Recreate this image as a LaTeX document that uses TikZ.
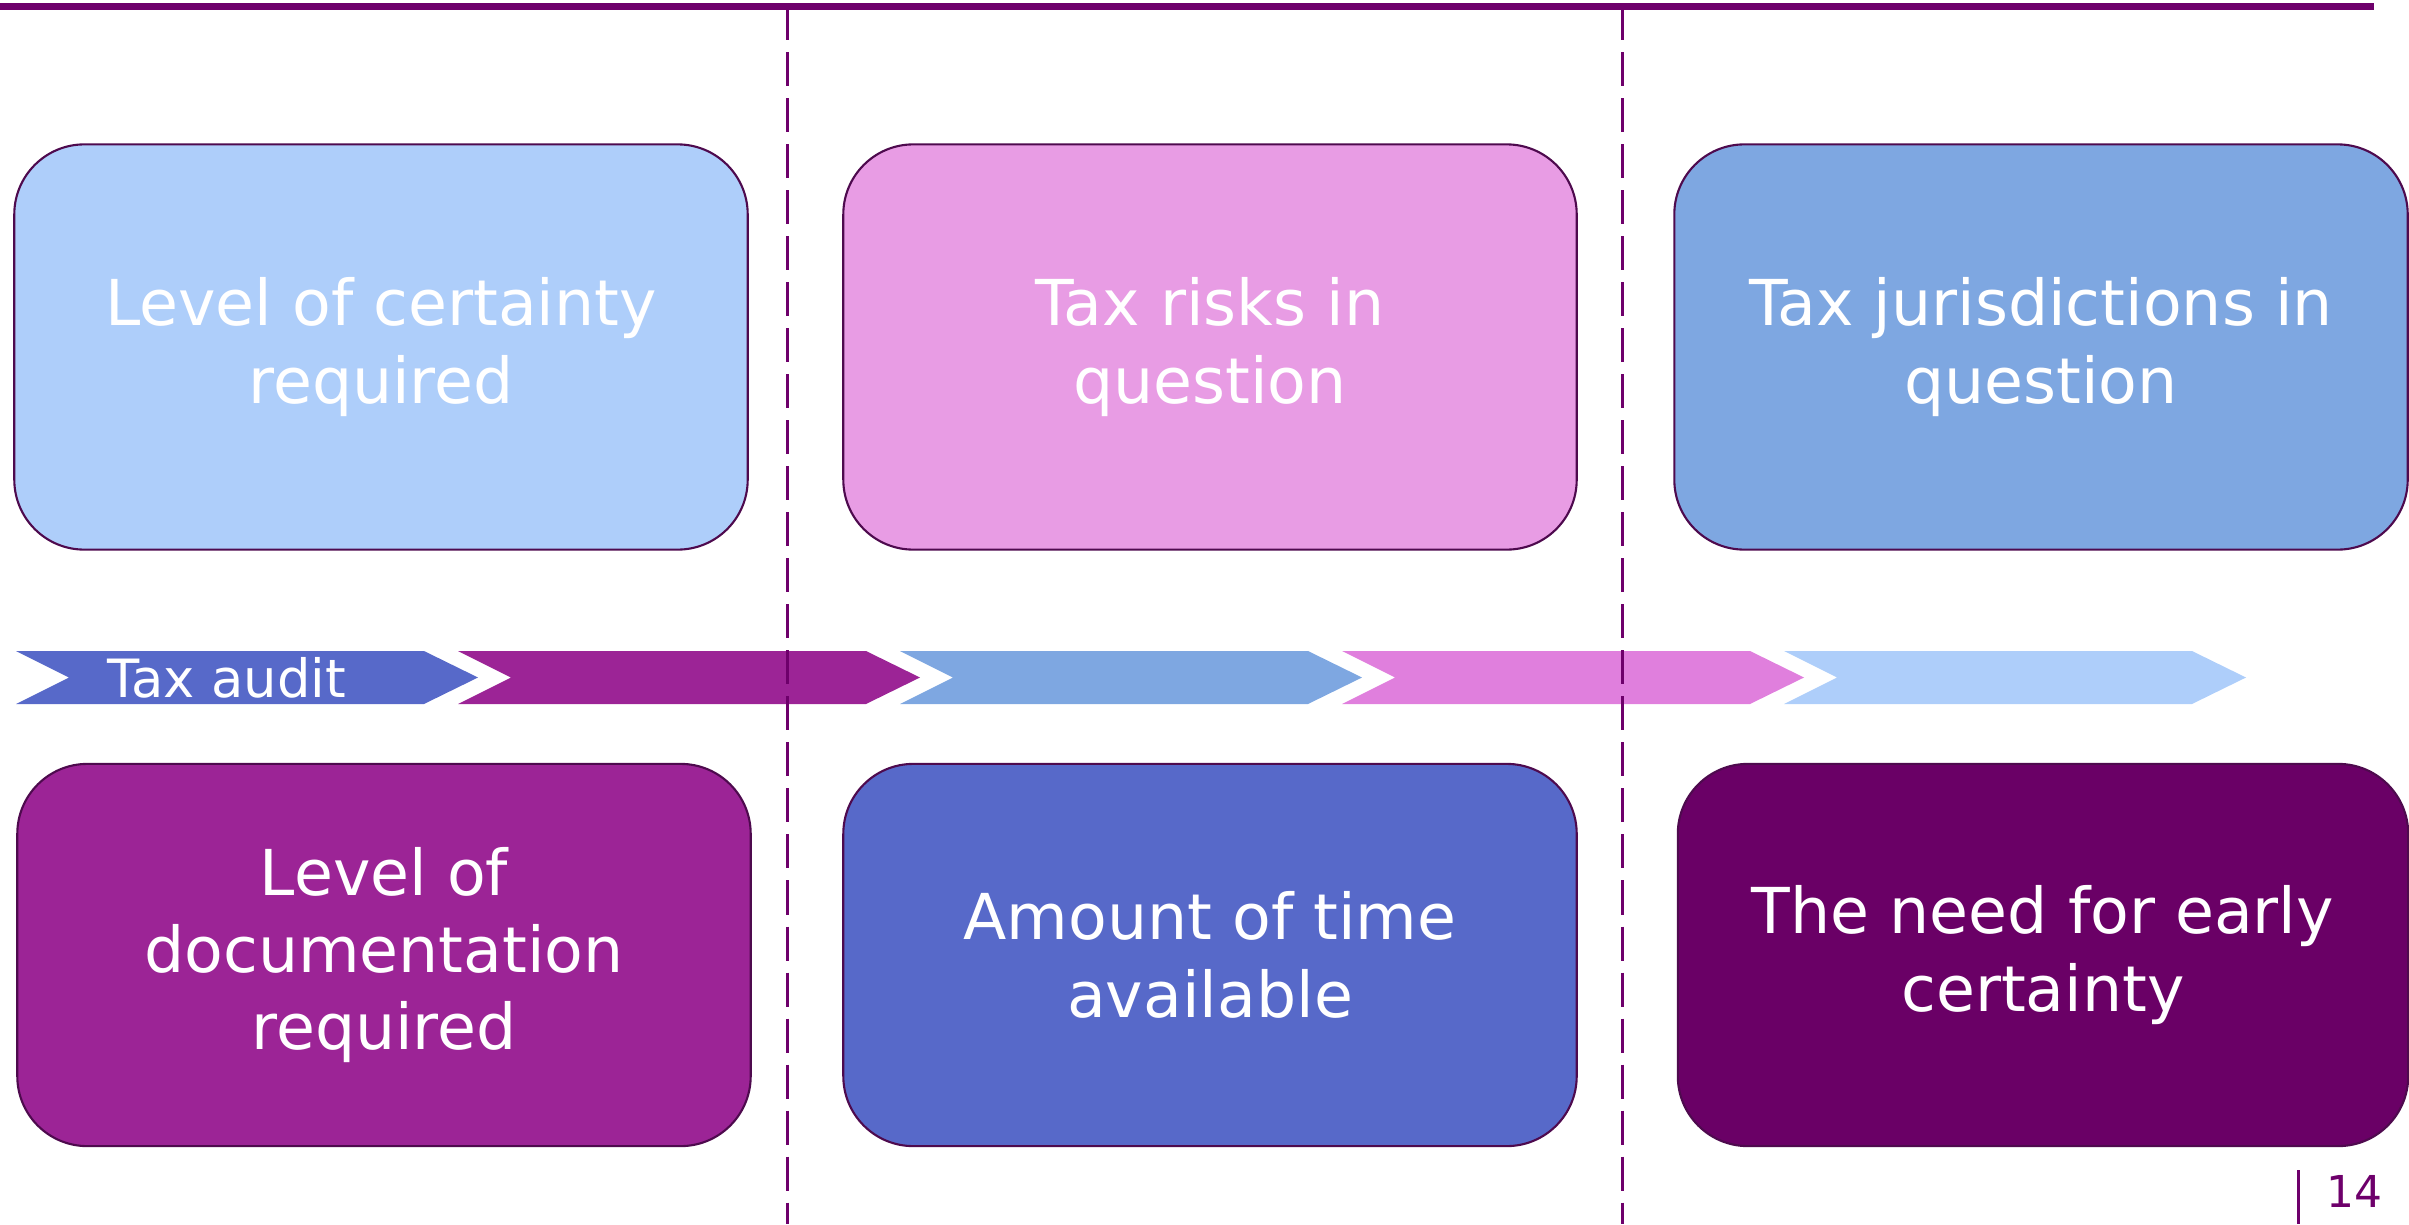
\documentclass[tikz,border=0pt]{standalone}
\usepackage{fontspec}
\setmainfont{DejaVu Sans}
\usetikzlibrary{positioning}
\definecolor{plum}{HTML}{6E006B}
\definecolor{boxedge}{HTML}{4E0A4E}
\definecolor{skyblue}{HTML}{AECEFA}
\definecolor{orchid}{HTML}{E89CE4}
\definecolor{cornflower}{HTML}{7EA7E1}
\definecolor{grape}{HTML}{9C2496}
\definecolor{royal}{HTML}{5769C9}
\definecolor{darkplum}{HTML}{6A0066}
\definecolor{pinkarrow}{HTML}{E07FDD}
\tikzset{box/.style={
            draw=boxedge,
            line width=0.6pt,
            rounded corners=0.7cm,
            minimum width=7.33cm,
            minimum height=4.05cm,
            inner sep=0pt,
            text=white,
            align=center,
            font=\fontsize{18}{22}\selectfont
        },
        lowbox/.style={
            box,
            minimum height=3.82cm
        },
        divider/.style={
            plum,
            line width=0.03cm,
            dash pattern=on 0.34cm off 0.12cm
        }
    }
\begin{document}
\begin{tikzpicture}
        [x=0.01cm,y=-0.01cm]

        \useasboundingbox (0,0) rectangle (2409,1224);

        \node[box,fill=skyblue] (certainty) at (381,347) {Level of certainty\\required};
        \node[box,fill=orchid] (risks) at (1210,347) {Tax risks in\\question};
        \node[box,fill=cornflower] (jurisdictions) at (2041,347) {Tax jurisdictions in\\question};

        \node[lowbox,fill=grape] (documentation) at (384,955) {Level of\\documentation\\required};
        \node[lowbox,fill=royal] (time) at (1210,955) {Amount of time\\available};
        \node[lowbox,fill=darkplum,minimum width=7.30cm] (early) at (2043,955) {The need for early\\certainty};

        \foreach \i/\col in {0/royal,1/grape,2/cornflower,3/pinkarrow,4/skyblue}{
            \pgfmathsetmacro\xl{16+442*\i}
            \fill[\col] (\xl,651) -- ++(408,0) -- ++(54,26.5) -- ++(-54,26.5) -- ++(-408,0) -- ++(53,-26.5) -- cycle;
        }
        \node[text=white,font=\fontsize{15}{18}\selectfont,inner sep=0pt] (audit) at (227,678) {Tax audit};

        \draw[divider] (787,6) -- (787,1224);
        \draw[divider] (1622,6) -- (1622,1224);
        \draw[plum,line width=0.07cm] (0,6.5) -- (2374,6.5);

        \node[text=plum,font=\fontsize{12.5}{15}\selectfont,inner sep=0pt] (pagenum) at (2354,1191) {14};
        \draw[plum,line width=0.03cm] (2298,1170) -- (2298,1224);

    \end{tikzpicture}
\end{document}
